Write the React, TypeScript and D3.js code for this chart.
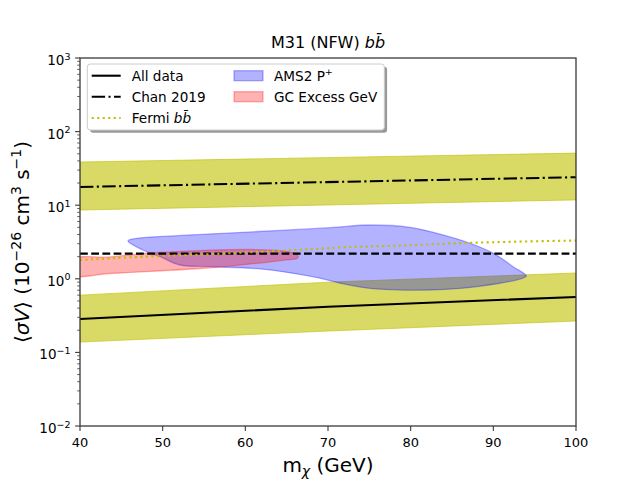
import * as d3 from 'd3';

// ---- data ----
const massDomain = [40, 100];
const xTickValues = [40, 50, 60, 70, 80, 90, 100];
const yExponents = [-2, -1, 0, 1, 2, 3];

// "All data" limit with its yellow band
const allDataMass = [40, 70, 100];
const allDataLimit = [0.284, 0.418, 0.566];
const allDataUpper = [0.6, 0.9, 1.2];
const allDataLower = [0.138, 0.195, 0.267];

// Chan 2019 with its yellow band
const chanMass = [40, 100];
const chanLimit = [17.7, 24];
const chanUpper = [38.6, 51];
const chanLower = [8.6, 11.8];

// horizontal dashed reference
const dashedMass = [40, 100];
const dashedLimit = [2.2, 2.2];

// Fermi bb
const fermiMass = [40, 47, 55, 60, 67, 73, 79, 85, 91, 100];
const fermiLimit = [1.8, 1.98, 2.14, 2.28, 2.5, 2.71, 2.83, 3.02, 3.16, 3.31];

// AMS2 P+ region (upper edge left->right, lower edge right->left)
const amsMass = [45.8, 46.9, 51.7, 59.7, 70.2, 75.1, 79.9, 83.2, 87.2, 90.0, 92.4, 94.0,
  93.2, 90.8, 86.0, 81.1, 75.1, 71.5, 69.0, 61.8, 55.7, 52.1, 49.7, 47.6];
const amsSigma = [3.27, 3.55, 3.85, 4.28, 4.95, 5.38, 5.01, 4.15, 3.04, 2.22, 1.46, 1.09,
  0.99, 0.87, 0.74, 0.70, 0.74, 0.87, 1.02, 1.36, 1.46, 1.54, 2.0, 2.46];

// GC excess region
const gcMass = [39, 43.6, 48.5, 54.5, 60.6, 64.2, 66.0, 66.4,
  66.25, 64.8, 61.8, 58.1, 54.5, 48.5, 43.6, 39];
const gcSigma = [1.83, 1.98, 2.24, 2.42, 2.5, 2.42, 2.21, 2.01,
  1.89, 1.8, 1.64, 1.49, 1.38, 1.26, 1.18, 1.13];

const font = '"DejaVu Sans", sans-serif';
const olive = '#bfbf00';

export default function App() {
  const left = 80, right = 576, top = 58, bottom = 426;
  const x = d3.scaleLinear().domain(massDomain).range([left, right]);
  const y = d3.scaleLog().domain([1e-2, 1e3]).range([bottom, top]);

  const makeBand = (m: number[], lo: number[], hi: number[]) =>
    d3.area<number>()
      .x((_, i) => x(m[i]))
      .y0((_, i) => y(lo[i]))
      .y1((_, i) => y(hi[i]))(m) || '';

  const makeLine = (m: number[], v: number[], curve = d3.curveLinear) =>
    d3.line<number>()
      .x((_, i) => x(m[i]))
      .y((_, i) => y(v[i]))
      .curve(curve)(m) || '';

  const makeRegion = (m: number[], v: number[]) =>
    d3.line<number>()
      .x((_, i) => x(m[i]))
      .y((_, i) => y(v[i]))
      .curve(d3.curveCatmullRomClosed.alpha(0.5))(m) || '';

  const minorTicks: number[] = [];
  for (let e = -2; e < 3; e++) {
    for (let k = 2; k <= 9; k++) minorTicks.push(k * Math.pow(10, e));
  }

  const legendRows = [75.7, 96.7, 118];

  return (
    <svg width={640} height={480} style={{ position: 'absolute', left: 0, top: 0, background: '#fff' }}
      fontFamily={font}>
      <defs>
        <clipPath id="plot">
          <rect x={left} y={top} width={right - left} height={bottom - top} />
        </clipPath>
      </defs>

      <g clipPath="url(#plot)">
        <path d={makeBand(chanMass, chanLower, chanUpper)} fill={olive} fillOpacity={0.6}
          stroke={olive} strokeOpacity={0.6} strokeWidth={1} />
        <path d={makeBand(allDataMass, allDataLower, allDataUpper)} fill={olive} fillOpacity={0.6}
          stroke={olive} strokeOpacity={0.6} strokeWidth={1} />

        <path d={makeRegion(amsMass, amsSigma)} fill="blue" fillOpacity={0.3}
          stroke="blue" strokeOpacity={0.3} strokeWidth={1.3} />
        <path d={makeRegion(gcMass, gcSigma)} fill="red" fillOpacity={0.3}
          stroke="red" strokeOpacity={0.3} strokeWidth={1.3} />

        <path d={makeLine(allDataMass, allDataLimit)} fill="none" stroke="#000" strokeWidth={2.1} />
        <path d={makeLine(chanMass, chanLimit)} fill="none" stroke="#000" strokeWidth={2.1}
          strokeDasharray="13.4 3.4 2.1 3.4" />
        <path d={makeLine(dashedMass, dashedLimit)} fill="none" stroke="#000" strokeWidth={2.1}
          strokeDasharray="7.8 3.4" />
        <path d={makeLine(fermiMass, fermiLimit, d3.curveMonotoneX)} fill="none" stroke={olive}
          strokeWidth={2.1} strokeDasharray="2.1 3.4" />
      </g>

      {/* axes frame */}
      <rect x={left} y={top} width={right - left} height={bottom - top} fill="none"
        stroke="#3a3a3a" strokeWidth={1.3} />

      {/* x ticks */}
      {xTickValues.map(t => (
        <g key={'x' + t}>
          <line x1={x(t)} x2={x(t)} y1={bottom} y2={bottom + 4.9} stroke="#3a3a3a" strokeWidth={1.1} />
          <text x={x(t)} y={bottom + 21} textAnchor="middle" fontSize={13}>{t}</text>
        </g>
      ))}

      {/* y ticks */}
      {yExponents.map(e => (
        <g key={'y' + e}>
          <line x1={left - 4.9} x2={left} y1={y(Math.pow(10, e))} y2={y(Math.pow(10, e))}
            stroke="#3a3a3a" strokeWidth={1.1} />
          <text x={70.5} y={y(Math.pow(10, e)) + 7} textAnchor="end" fontSize={13.5}>
            10<tspan dy={-5.5} fontSize={9.5}>{e < 0 ? '\u2212' + Math.abs(e) : String(e)}</tspan>
          </text>
        </g>
      ))}
      {minorTicks.map(v => (
        <line key={'m' + v} x1={left - 2.8} x2={left} y1={y(v)} y2={y(v)} stroke="#3a3a3a" strokeWidth={0.8} />
      ))}

      {/* title */}
      <text x={328} y={47.5} textAnchor="middle" fontSize={16}>
        M31 (NFW) <tspan fontStyle="italic">b{'b\u0304'}</tspan>
      </text>

      {/* axis labels */}
      <text x={328} y={472} textAnchor="middle" fontSize={20}>
        m<tspan dy={4} fontSize={14} fontStyle="italic">χ</tspan><tspan dy={-4}>{' (GeV)'}</tspan>
      </text>
      <text transform="translate(29,242) rotate(-90)" textAnchor="middle" fontSize={20}>
        ⟨<tspan fontStyle="italic">σV</tspan>⟩ (10<tspan dy={-8} fontSize={14}>{'\u221226'}</tspan>
        <tspan dy={8}>{' cm'}</tspan><tspan dy={-8} fontSize={14}>3</tspan>
        <tspan dy={8}>{' s'}</tspan><tspan dy={-8} fontSize={14}>{'\u22121'}</tspan>
        <tspan dy={8}>)</tspan>
      </text>

      {/* legend */}
      <g>
        <rect x={90.1} y={66.8} width={297} height={66} rx={3} fill="#000" fillOpacity={0.4} />
        <rect x={87.3} y={64} width={297} height={66} rx={3} fill="#fff" stroke="#cccccc" strokeWidth={1} />
        <line x1={91.7} x2={120.7} y1={legendRows[0]} y2={legendRows[0]} stroke="#000" strokeWidth={2.1} />
        <line x1={91.7} x2={120.7} y1={legendRows[1]} y2={legendRows[1]} stroke="#000" strokeWidth={2.1}
          strokeDasharray="13.4 3.4 2.1 3.4" />
        <line x1={91.7} x2={120.7} y1={legendRows[2]} y2={legendRows[2]} stroke={olive} strokeWidth={2.1}
          strokeDasharray="2.1 3.4" />
        <text x={131.7} y={legendRows[0] + 5} fontSize={13.6}>All data</text>
        <text x={131.7} y={legendRows[1] + 5} fontSize={13.6}>Chan 2019</text>
        <text x={131.7} y={legendRows[2] + 5} fontSize={13.6}>
          Fermi <tspan fontStyle="italic">b{'b\u0304'}</tspan>
        </text>

        <rect x={234} y={legendRows[0] - 5} width={29} height={10} fill="blue" fillOpacity={0.3}
          stroke="blue" strokeOpacity={0.3} strokeWidth={1.3} />
        <rect x={234} y={legendRows[1] - 5} width={29} height={10} fill="red" fillOpacity={0.3}
          stroke="red" strokeOpacity={0.3} strokeWidth={1.3} />
        <text x={274} y={legendRows[0] + 5} fontSize={13.6}>
          AMS2 P<tspan dy={-6} fontSize={9.5}>+</tspan>
        </text>
        <text x={274} y={legendRows[1] + 5} fontSize={13.6}>GC Excess GeV</text>
      </g>
    </svg>
  );
}
